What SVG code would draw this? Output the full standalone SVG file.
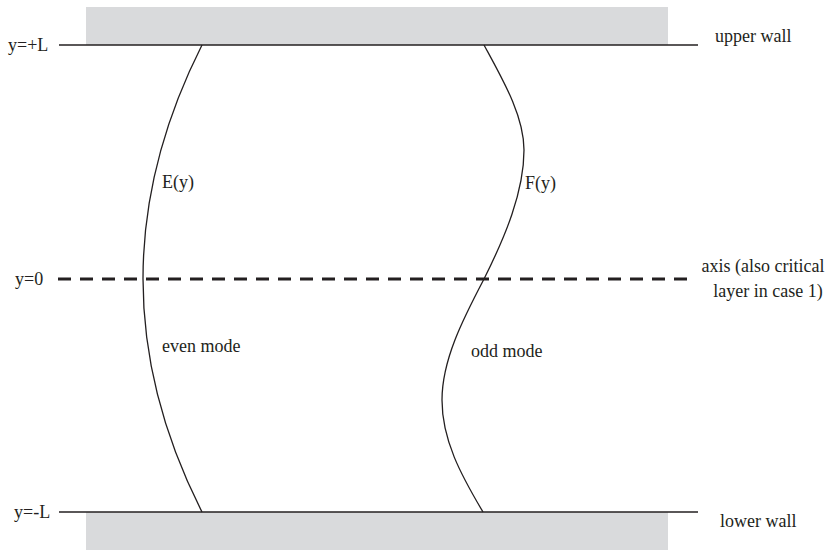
<svg xmlns="http://www.w3.org/2000/svg" width="830" height="552" viewBox="0 0 830 552">
<style>
text{font-family:'Liberation Serif','DejaVu Serif',serif;font-size:18px;fill:#231f20}
.wall{fill:#d9dadc}
.line{stroke:#231f20;stroke-width:1.6;fill:none}
.curve{stroke:#231f20;stroke-width:1.3;fill:none}
.dash{stroke:#231f20;stroke-width:3;stroke-dasharray:13 9;fill:none}
</style>
<rect width="830" height="552" fill="#fff"/>
<g font-family="Liberation Serif, DejaVu Serif, serif">
<g id="upper-wall">
<rect class="wall" x="86" y="7" width="582" height="38"/>
<line class="line" x1="59" y1="45" x2="698" y2="45"/>
<text x="8" y="51">y=+L</text>
<text x="715" y="42">upper wall</text>
</g>
<g id="lower-wall">
<rect class="wall" x="86" y="512" width="582" height="38"/>
<line class="line" x1="59" y1="512" x2="698" y2="512"/>
<text x="14" y="518">y=-L</text>
<text x="720" y="527">lower wall</text>
</g>
<g id="axis">
<line class="dash" x1="58" y1="279" x2="690" y2="279"/>
<text x="15" y="285">y=0</text>
<text x="763" y="272" text-anchor="middle">axis (also critical</text>
<text x="768" y="297" text-anchor="middle">layer in case 1)</text>
</g>
<g id="connectors">
<path id="even-curve" class="curve" d="M202,45 Q84,279 202,512"/>
<path id="odd-curve" class="curve" d="M484,45 C503,80 524,116 524,150 C524,192 505,237 484,279 C463,319 442,360 442,400 C442,440 461,475 483,512"/>
</g>
<g id="even-mode">
<text x="162" y="188">E(y)</text>
<text x="162" y="352">even mode</text>
</g>
<g id="odd-mode">
<text x="525" y="189">F(y)</text>
<text x="471" y="357">odd mode</text>
</g>
</g>
</svg>
